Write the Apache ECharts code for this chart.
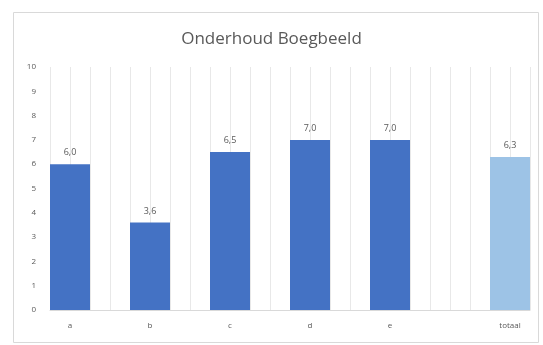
<!DOCTYPE html>
<html>
<head>
<meta charset="utf-8">
<script src="https://cdn.jsdelivr.net/npm/echarts@6/dist/echarts.min.js"></script>
<style>
  html, body { margin: 0; padding: 0; background: #fff; }
  #chart { width: 543px; height: 345px; }
</style>
</head>
<body>
<div id="chart"></div>
<script>
// slots on the x axis, blanks are empty columns in the sheet
var categories = ['a', '', 'b', '', 'c', '', 'd', '', 'e', '', '', 'totaal']
var scores = [6.0, null, 3.6, null, 6.5, null, 7.0, null, 7.0, null, null, 6.3]
var yTicks = [0, 1, 2, 3, 4, 5, 6, 7, 8, 9, 10]

var darkBlue = '#4472C4'
var lightBlue = '#9DC3E6'
var textGrey = '#595959'

var chart = echarts.init(document.getElementById('chart'))

var barData = scores.map(function (v, i) {
  if (v === null) return '-'
  return {
    value: v,
    itemStyle: { color: categories[i] === 'totaal' ? lightBlue : darkBlue }
  }
})

chart.setOption({
  animation: false,
  title: {
    text: 'Onderhoud Boegbeeld',
    left: 'center',
    top: 26,
    textStyle: {
      fontFamily: 'Open Sans',
      fontSize: 17,
      fontWeight: 'normal',
      color: textGrey
    }
  },
  graphic: [{
    type: 'rect',
    shape: { x: 13.5, y: 12.5, width: 525, height: 330 },
    style: { fill: 'none', stroke: '#d9d9d9', lineWidth: 1 },
    silent: true
  }],
  grid: {
    left: 50,
    right: 13,
    top: 67,
    bottom: 35
  },
  xAxis: [{
    type: 'category',
    data: categories,
    axisTick: { show: false },
    axisLine: { lineStyle: { color: '#d9d9d9' } },
    axisLabel: {
      color: textGrey,
      fontSize: 8,
      fontFamily: 'Open Sans',
      margin: 12,
      interval: 0
    },
    splitLine: { show: false }
  }, {
    // only here for the thin vertical gridlines
    type: 'value',
    min: 0,
    max: 12,
    interval: 0.5,
    show: true,
    axisLine: { show: false },
    axisTick: { show: false },
    axisLabel: { show: false },
    splitLine: { show: true, lineStyle: { color: '#e8e8e8', width: 1 } }
  }],
  yAxis: {
    type: 'value',
    min: yTicks[0],
    max: yTicks[yTicks.length - 1],
    interval: 1,
    axisLine: { show: false },
    axisTick: { show: false },
    splitLine: { show: false },
    axisLabel: {
      color: textGrey,
      fontSize: 8,
      fontFamily: 'Open Sans',
      margin: 14
    }
  },
  series: [{
    type: 'bar',
    xAxisIndex: 0,
    data: barData,
    barWidth: '100%',
    barGap: '0%',
    label: {
      show: true,
      position: 'top',
      distance: 7,
      color: textGrey,
      fontSize: 9,
      fontFamily: 'Open Sans',
      formatter: function (p) {
        return p.value.toFixed(1).replace('.', ',')
      }
    }
  }]
})
</script>
</body>
</html>
